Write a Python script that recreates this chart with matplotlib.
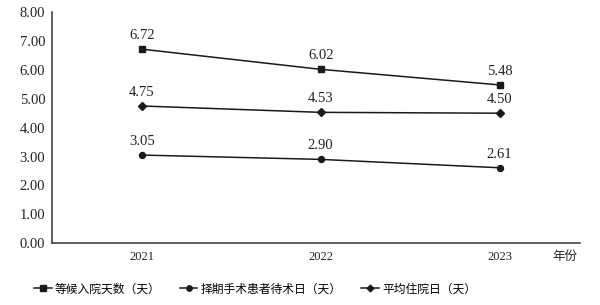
import matplotlib
matplotlib.use("Agg")
import matplotlib.pyplot as plt

plt.rcParams['font.family'] = ['Liberation Serif', 'Noto Sans CJK SC', 'DejaVu Sans']

years = ["2021", "2022", "2023"]
wait_admit = [6.72, 6.02, 5.48]
wait_surgery = [3.05, 2.90, 2.61]
avg_stay = [4.75, 4.53, 4.50]
labels = ["等候入院天数（天）", "择期手术患者待术日（天）", "平均住院日（天）"]

color = "#1a1a1a"
fig = plt.figure(figsize=(6, 3.05), dpi=100)
ax = fig.add_axes([0.087, 0.203, 0.88, 0.757])

x = list(range(len(years)))
series = [(wait_admit, "s", labels[0]), (wait_surgery, "o", labels[1]), (avg_stay, "D", labels[2])]
handles = []
for vals, mk, lab in series:
    ms = 3.8 if mk == "D" else 4.3
    h, = ax.plot(x, vals, color=color, lw=1.1, marker=mk, ms=ms, label=lab)
    handles.append(h)
    for xi, v in zip(x, vals):
        ax.annotate(f"{v:.2f}", (xi, v), xytext=(0, 5), textcoords="offset points",
                    ha="center", va="bottom", fontsize=10.5, color="#222222")

ax.set_xlim(-0.5, 2.45)
ax.set_ylim(0, 8)
ax.set_yticks(range(0, 9))
ax.set_yticklabels([f"{v:.2f}" for v in range(0, 9)], fontsize=10.5, color="#222222")
ax.set_xticks(x)
ax.set_xticklabels(years, fontsize=9, color="#222222")
ax.tick_params(length=0, pad=6)
ax.tick_params(axis="y", pad=5)
for s in ["top", "right"]:
    ax.spines[s].set_visible(False)
for s in ["left", "bottom"]:
    ax.spines[s].set_color("#333333")
    ax.spines[s].set_linewidth(1.1)

fig.text(565 / 600, 1 - 256 / 305, "年份", fontsize=9, ha="center", va="center",
         family=["Noto Sans CJK SC"], color="#222222")

fig.legend(handles=handles, loc="center", bbox_to_anchor=(255 / 600, 1 - 289 / 305),
           ncol=3, frameon=False, prop={"family": ["Noto Sans CJK SC"], "size": 8.5},
           handlelength=1.5, handletextpad=0.3, columnspacing=1.6, markerscale=0.9)

fig.savefig("out.png", dpi=100)
